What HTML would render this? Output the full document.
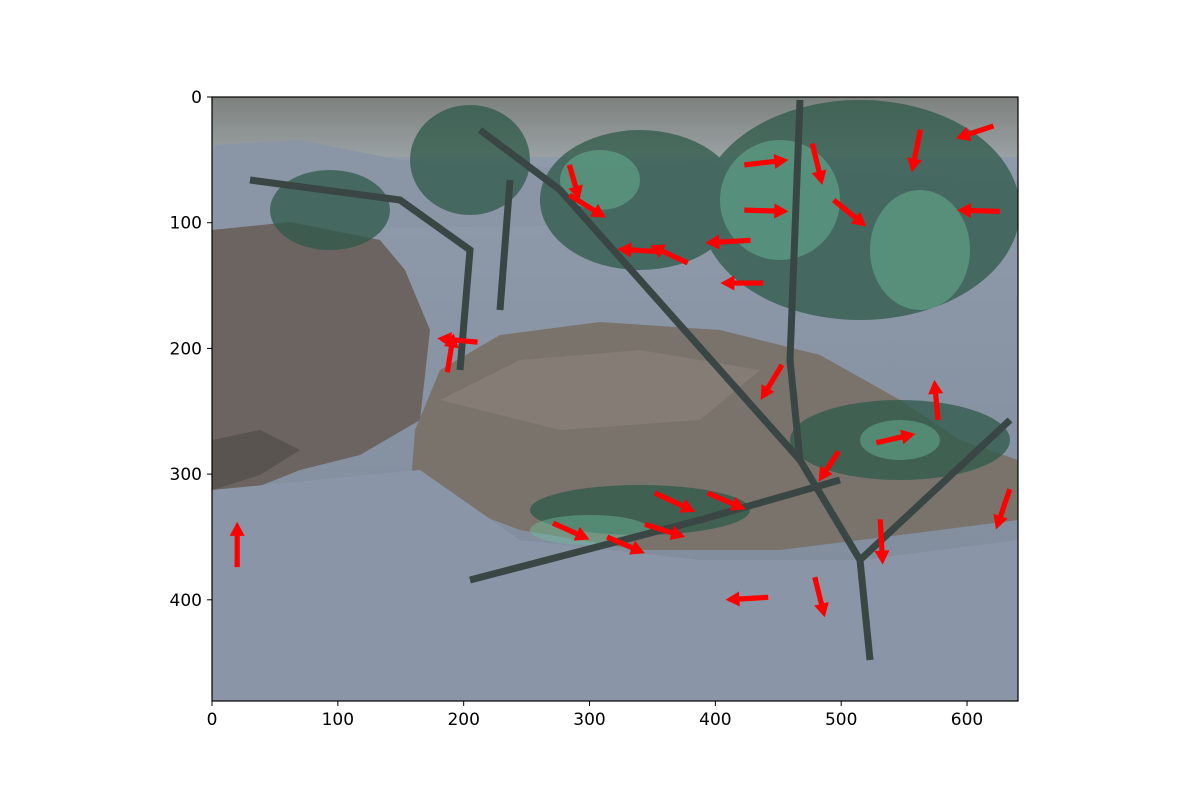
<!DOCTYPE html>
<html><head><meta charset="utf-8"><style>
body{margin:0;background:#fff;font-family:"Liberation Sans","DejaVu Sans",sans-serif}
svg text{font-family:"DejaVu Sans","Liberation Sans",sans-serif;font-size:17px;fill:#000}
</style></head><body>
<svg id="chart" width="1200" height="800">
<defs>
<clipPath id="clip"><rect x="212" y="97" width="806" height="604"/></clipPath>
<linearGradient id="sky" x1="0" y1="0" x2="0" y2="1"><stop offset="0" stop-color="#7d817e"/><stop offset="1" stop-color="#9aa1a3"/></linearGradient>
<linearGradient id="ground" x1="0" y1="0" x2="0" y2="1"><stop offset="0" stop-color="#919dac"/><stop offset="1" stop-color="#7e899a"/></linearGradient>
</defs>
<g clip-path="url(#clip)">
<rect x="212" y="97" width="806" height="604" fill="url(#ground)"/>
<rect x="212" y="97" width="806" height="60" fill="url(#sky)"/>
<path d="M212,145 L300,140 L400,160 L500,165 L600,170 L700,160 L800,170 L900,175 L1018,180 L1018,220 L212,230Z" fill="#8a96a5"/>
<path d="M212,230 L290,222 L380,240 L405,270 L430,330 L420,420 L360,455 L300,470 L250,490 L212,490Z" fill="#6b6460"/>
<path d="M212,440 L260,430 L300,450 L260,475 L212,490Z" fill="#5a5450"/>
<path d="M415,430 L440,370 L500,335 L600,322 L720,330 L820,355 L900,400 L960,440 L1018,460 L1018,520 L900,535 L780,550 L640,550 L520,530 L440,500 L412,470Z" fill="#7a736b"/>
<path d="M440,400 L520,360 L640,350 L760,370 L700,420 L560,430Z" fill="#8a8279" opacity="0.7"/>
<path d="M212,490 L420,470 L520,540 L700,560 L860,560 L1018,540 L1018,701 L212,701Z" fill="#8a96a7"/>
<g fill="#2e5a49" opacity="0.75">
<ellipse cx="860" cy="210" rx="160" ry="110"/>
<ellipse cx="640" cy="200" rx="100" ry="70"/>
<ellipse cx="470" cy="160" rx="60" ry="55"/>
<ellipse cx="330" cy="210" rx="60" ry="40"/>
<ellipse cx="900" cy="440" rx="110" ry="40"/>
<ellipse cx="640" cy="510" rx="110" ry="25"/>
</g>
<g fill="#6cbf9c" opacity="0.45">
<ellipse cx="780" cy="200" rx="60" ry="60"/>
<ellipse cx="920" cy="250" rx="50" ry="60"/>
<ellipse cx="600" cy="180" rx="40" ry="30"/>
<ellipse cx="590" cy="530" rx="60" ry="15"/>
<ellipse cx="900" cy="440" rx="40" ry="20"/>
</g>
<g stroke="#3a4644" stroke-width="7" fill="none">
<path d="M870,660 L860,560 L800,460 L790,360 L800,100"/>
<path d="M860,560 L1010,420"/>
<path d="M800,460 L560,190 L480,130"/>
<path d="M460,370 L470,250 L400,200 L250,180"/>
<path d="M470,580 L700,520 L840,480"/>
<path d="M500,310 L510,180"/>
</g>
</g>
<g id="arrows"></g>
<rect x="212" y="97" width="806" height="604" fill="none" stroke="#000" stroke-width="1.2"/>
<g id="xt"></g>
<g id="yt"></g>
</svg>
<script>
const arrowX=[20,187,211,284,284,355,378,428,438,423,423,477,494,563,621,626,453,577,528,498,352,394,271,314,344,531,634,442,479];
const arrowY=[374,219,195,54,78,123,132,114,148,54,90,37,82,26,23,91,213,257,275,282,315,315,339,350,340,336,312,398,382];
const arrowU=[0,5,-32,8,29,-33,-30,-36,-34,35,35,8,26,-7,-30,-34,-17,-3,31,-16,32,30,29,30,32,2,-11,-34,8];
const arrowV=[-36,-31,-3,28,18,-2,-14,2,0,-4,1,33,21,34,10,-1,28,-32,-7,24,15,13,13,13,10,36,32,2,32];
const xTicks=[0,100,200,300,400,500,600];
const yTicks=[0,100,200,300,400];
const NS="http://www.w3.org/2000/svg";
const sx=v=>212+v*806/640.5, sy=v=>97+v*604/480.5;
const ag=document.getElementById('arrows');
for(let i=0;i<arrowX.length;i++){
 const x0=sx(arrowX[i]),y0=sy(arrowY[i]),x1=sx(arrowX[i]+arrowU[i]),y1=sy(arrowY[i]+arrowV[i]);
 const L=Math.hypot(x1-x0,y1-y0),ux=(x1-x0)/L,uy=(y1-y0)/L,nx=-uy,ny=ux;
 const w=2.6,hw=7.5,hl=14,bx=x1-ux*hl,by=y1-uy*hl;
 const pts=[[x0+nx*w,y0+ny*w],[bx+nx*w,by+ny*w],[bx+nx*hw,by+ny*hw],[x1,y1],[bx-nx*hw,by-ny*hw],[bx-nx*w,by-ny*w],[x0-nx*w,y0-ny*w]];
 const p=document.createElementNS(NS,'polygon');
 p.setAttribute('points',pts.map(q=>q.join(',')).join(' '));
 p.setAttribute('fill','#ff0000');
 
 
 ag.appendChild(p);
}
const xt=document.getElementById('xt');
xTicks.forEach(t=>{
 const x=sx(t);
 const l=document.createElementNS(NS,'line');
 l.setAttribute('x1',x);l.setAttribute('x2',x);l.setAttribute('y1',701);l.setAttribute('y2',706);l.setAttribute('stroke','#000');
 
 
 xt.appendChild(l);
 const s=document.createElementNS(NS,'text');
 s.setAttribute('x',x);s.setAttribute('y',725);s.setAttribute('text-anchor','middle');s.textContent=t;
 
 
 xt.appendChild(s);
});
const yt=document.getElementById('yt');
yTicks.forEach(t=>{
 const y=sy(t);
 const l=document.createElementNS(NS,'line');
 l.setAttribute('x1',207);l.setAttribute('x2',212);l.setAttribute('y1',y);l.setAttribute('y2',y);l.setAttribute('stroke','#000');
 
 
 yt.appendChild(l);
 const s=document.createElementNS(NS,'text');
 s.setAttribute('x',202);s.setAttribute('y',y+6);s.setAttribute('text-anchor','end');s.textContent=t;
 
 
 yt.appendChild(s);
});
</script>
</body></html>
